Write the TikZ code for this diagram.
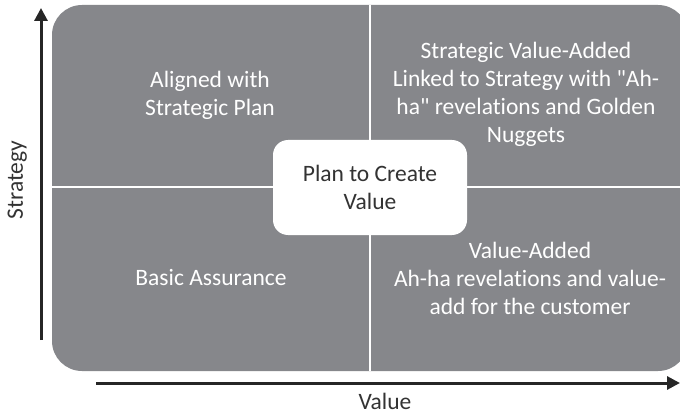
\documentclass[tikz,border=0pt]{standalone}
\usepackage{fontspec}
\setmainfont{Carlito}[Ligatures={NoCommon}]
\usetikzlibrary{arrows.meta}
\definecolor{panel}{RGB}{134,135,139}
\definecolor{axisgrey}{RGB}{38,38,38}
\definecolor{ink}{RGB}{51,51,51}
\begin{document}
\begin{tikzpicture}[x=1pt,y=1pt,
  quadtext/.style={text=white, align=center, font=\fontsize{23.5}{28}\selectfont},
  hub/.style={fill=white, rounded corners=15pt, minimum width=194pt, minimum height=95pt,
    text=ink, align=center, font=\fontsize{23.5}{28}\selectfont},
  axisline/.style={line width=3pt, draw=axisgrey, -{Triangle[length=13pt,width=13pt]}},
  axislabel/.style={text=ink, inner sep=0pt, anchor=base, font=\fontsize{23.5}{28}\selectfont}]
\useasboundingbox (0,0) rectangle (680,413);

% grey matrix panel, running past the right edge
\begin{scope}
  \clip (0,0) rectangle (680,413);
  \fill[panel, rounded corners=30pt] (52,42) rectangle (688,408);
  % white gaps between the four quadrants
  \draw[white, line width=2.5pt] (370,42) -- (370,408);
  \draw[white, line width=2.5pt] (52,226) -- (688,226);
\end{scope}

% quadrant texts
\node[quadtext] (aligned) at (210,318) {Aligned with\\Strategic Plan};
\node[quadtext] (strategicva) at (526,318.5) {Strategic Value-Added\\Linked to Strategy with \textquotedbl Ah-\\ha\textquotedbl{} revelations and Golden\\Nuggets};
\node[quadtext] (basic) at (211,135) {Basic Assurance};
\node[quadtext] (valueadded) at (530,135) {Value-Added\\Ah-ha revelations and value-\\add for the customer};

% central box
\node[hub] (hubbox) at (370,225.5) {Plan to Create\\Value};

% axes
\coordinate (ybottom) at (41,73);
\coordinate (ytop) at (41,405);
\coordinate (xleft) at (96,30);
\coordinate (xright) at (680,30);
\draw[axisline] (ybottom) -- (ytop);
\draw[axisline] (xleft) -- (xright);

\node[axislabel, rotate=90] (strategylabel) at (23,233) {Strategy};
\node[axislabel] (valuelabel) at (385,4) {Value};
\end{tikzpicture}
\end{document}
